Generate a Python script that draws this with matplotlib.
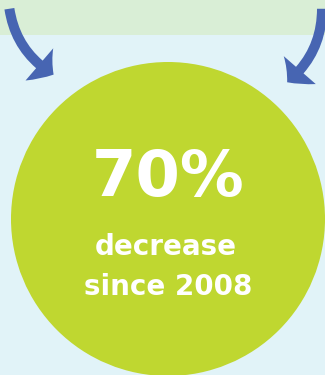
import matplotlib
matplotlib.use("Agg")
import matplotlib.pyplot as plt
from matplotlib.patches import Circle, Rectangle, FancyArrowPatch

# data
stat_value = 70
stat_unit = "%"
caption_lines = ["decrease", "since 2008"]

bg_color = "#e1f3f8"
band_color = "#d9eed6"
circle_color = "#bfd730"
arrow_color = "#4765b2"

fig = plt.figure(figsize=(3.25, 3.75), dpi=100)
fig.patch.set_facecolor(bg_color)
ax = fig.add_axes([0, 0, 1, 1])
ax.set_xlim(0, 325)
ax.set_ylim(375, 0)
ax.axis("off")

# top band
ax.add_patch(Rectangle((0, 0), 325, 35, color=band_color, lw=0))

# big circle
ax.add_patch(Circle((168, 219), 157, color=circle_color, lw=0))

# curved arrows
style = "simple,head_length=1.4,head_width=3.4,tail_width=0.8"
left = FancyArrowPatch((9, 6), (56, 76), connectionstyle="arc3,rad=0.25",
                       arrowstyle=style, mutation_scale=9, color=arrow_color, lw=0)
ax.add_patch(left)
right = FancyArrowPatch((322, 6), (285, 84), connectionstyle="arc3,rad=-0.25",
                        arrowstyle=style, mutation_scale=9, color=arrow_color, lw=0)
ax.add_patch(right)

# text
ax.text(168, 178, f"{stat_value}{stat_unit}", color="white", fontsize=46,
        fontweight="bold", family="DejaVu Sans", ha="center", va="center")
ax.text(166, 247, caption_lines[0], color="white", fontsize=20,
        fontweight="bold", family="DejaVu Sans", ha="center", va="center")
ax.text(168, 287, caption_lines[1], color="white", fontsize=20,
        fontweight="bold", family="DejaVu Sans", ha="center", va="center")

fig.savefig("out.png", dpi=100, facecolor=bg_color)
